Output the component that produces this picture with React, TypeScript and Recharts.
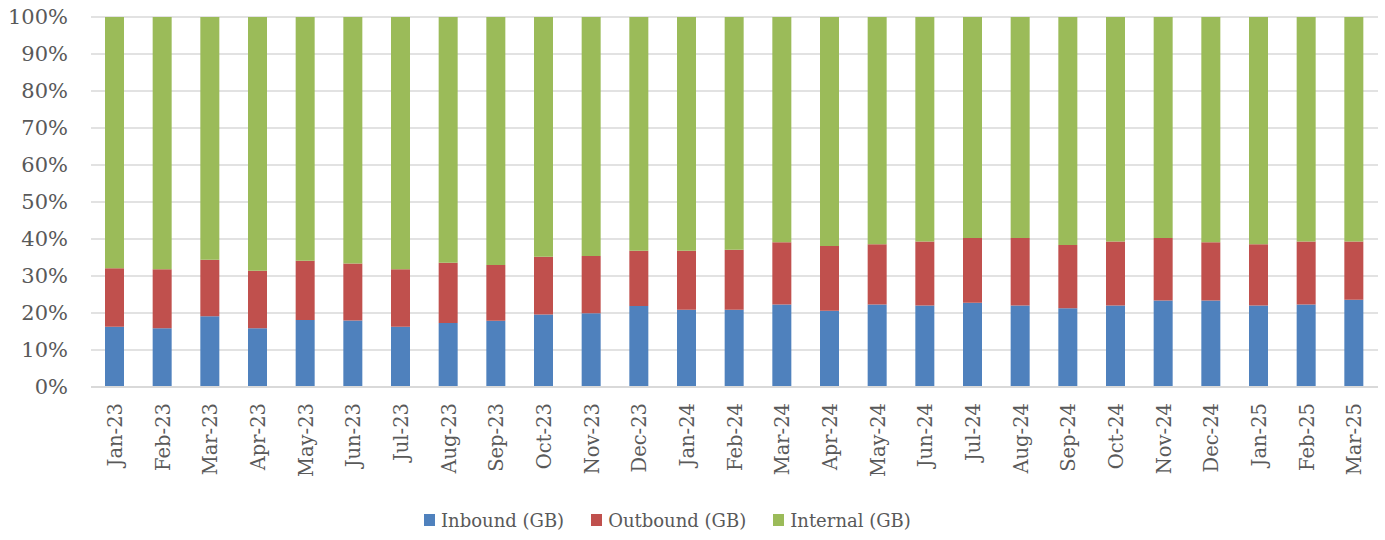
import { BarChart, Bar, XAxis, YAxis, CartesianGrid, Legend } from "recharts";

const months = [
  "Jan-23", "Feb-23", "Mar-23", "Apr-23", "May-23", "Jun-23", "Jul-23", "Aug-23", "Sep-23",
  "Oct-23", "Nov-23", "Dec-23", "Jan-24", "Feb-24", "Mar-24", "Apr-24", "May-24", "Jun-24",
  "Jul-24", "Aug-24", "Sep-24", "Oct-24", "Nov-24", "Dec-24", "Jan-25", "Feb-25", "Mar-25",
];

// share of monthly traffic, in percent
const inbound = [
  16.3, 15.9, 19.1, 15.9, 18.1, 18.0, 16.3, 17.3, 17.9, 19.6, 19.9, 21.9, 20.9, 20.9,
  22.3, 20.6, 22.3, 22.0, 22.8, 22.0, 21.3, 22.0, 23.4, 23.4, 22.0, 22.3, 23.6,
];
const outbound = [
  15.8, 15.9, 15.3, 15.5, 16.0, 15.4, 15.5, 16.3, 15.1, 15.6, 15.5, 14.9, 15.9, 16.2,
  16.8, 17.5, 16.3, 17.3, 17.5, 18.3, 17.1, 17.3, 16.9, 15.7, 16.6, 17.0, 15.7,
];
const internal = [
  67.9, 68.2, 65.6, 68.6, 65.9, 66.6, 68.2, 66.4, 67.0, 64.8, 64.6, 63.2, 63.2, 62.9,
  60.9, 61.9, 61.4, 60.7, 59.7, 59.7, 61.6, 60.7, 59.7, 60.9, 61.4, 60.7, 60.7,
];

const yTicks = [0, 10, 20, 30, 40, 50, 60, 70, 80, 90, 100];

const series = [
  { key: "inbound", name: "Inbound (GB)", color: "#4F81BD" },
  { key: "outbound", name: "Outbound (GB)", color: "#C0504D" },
  { key: "internal", name: "Internal (GB)", color: "#9BBB59" },
];

const data = months.map((m, i) => ({
  month: m,
  inbound: inbound[i],
  outbound: outbound[i],
  internal: internal[i],
}));

const font = "'DejaVu Serif', serif";
const textColor = "#595959";

function MonthTick({ x, y, payload }: any) {
  return (
    <g transform={`translate(${x},${y})`}>
      <text
        transform="rotate(-90)"
        textAnchor="end"
        dy="0.36em"
        fill={textColor}
        fontSize={19.5}
        fontFamily={font}
      >
        {payload.value}
      </text>
    </g>
  );
}

function LegendRow() {
  return (
    <div style={{ display: "flex", height: 30, alignItems: "center", paddingLeft: 424, fontFamily: font, fontSize: 18, color: textColor }}>
      {series.map((s) => (
        <div key={s.key} style={{ display: "flex", alignItems: "center", marginRight: 27 }}>
          <span style={{ width: 11, height: 12, background: s.color, marginRight: 6, display: "inline-block" }} />
          <span>{s.name}</span>
        </div>
      ))}
    </div>
  );
}

export default function App() {
  return (
    <div style={{ position: "absolute", left: 0, top: 0, width: 1385, height: 540, background: "#fff" }}>
      <BarChart width={1385} height={540} data={data} margin={{ top: 17, right: 7, left: 0, bottom: 5 }}>
        <CartesianGrid vertical={false} stroke="#d9d9d9" strokeWidth={1.5} />
        <XAxis
          dataKey="month"
          interval={0}
          height={118}
          tickSize={0}
          tickMargin={16}
          axisLine={{ stroke: "#d9d9d9", strokeWidth: 2 }}
          tickLine={false}
          tick={<MonthTick />}
        />
        <YAxis
          domain={[0, 100]}
          ticks={yTicks}
          width={91}
          tickSize={0}
          tickMargin={23}
          axisLine={false}
          tickLine={false}
          tickFormatter={(v) => `${v}%`}
          tick={{ fill: textColor, fontSize: 21, fontFamily: font }}
        />
        <Legend verticalAlign="bottom" content={() => <LegendRow />} />
        {series.map((s) => (
          <Bar key={s.key} dataKey={s.key} name={s.name} stackId="a" fill={s.color} barSize={19} isAnimationActive={false} />
        ))}
      </BarChart>
    </div>
  );
}
